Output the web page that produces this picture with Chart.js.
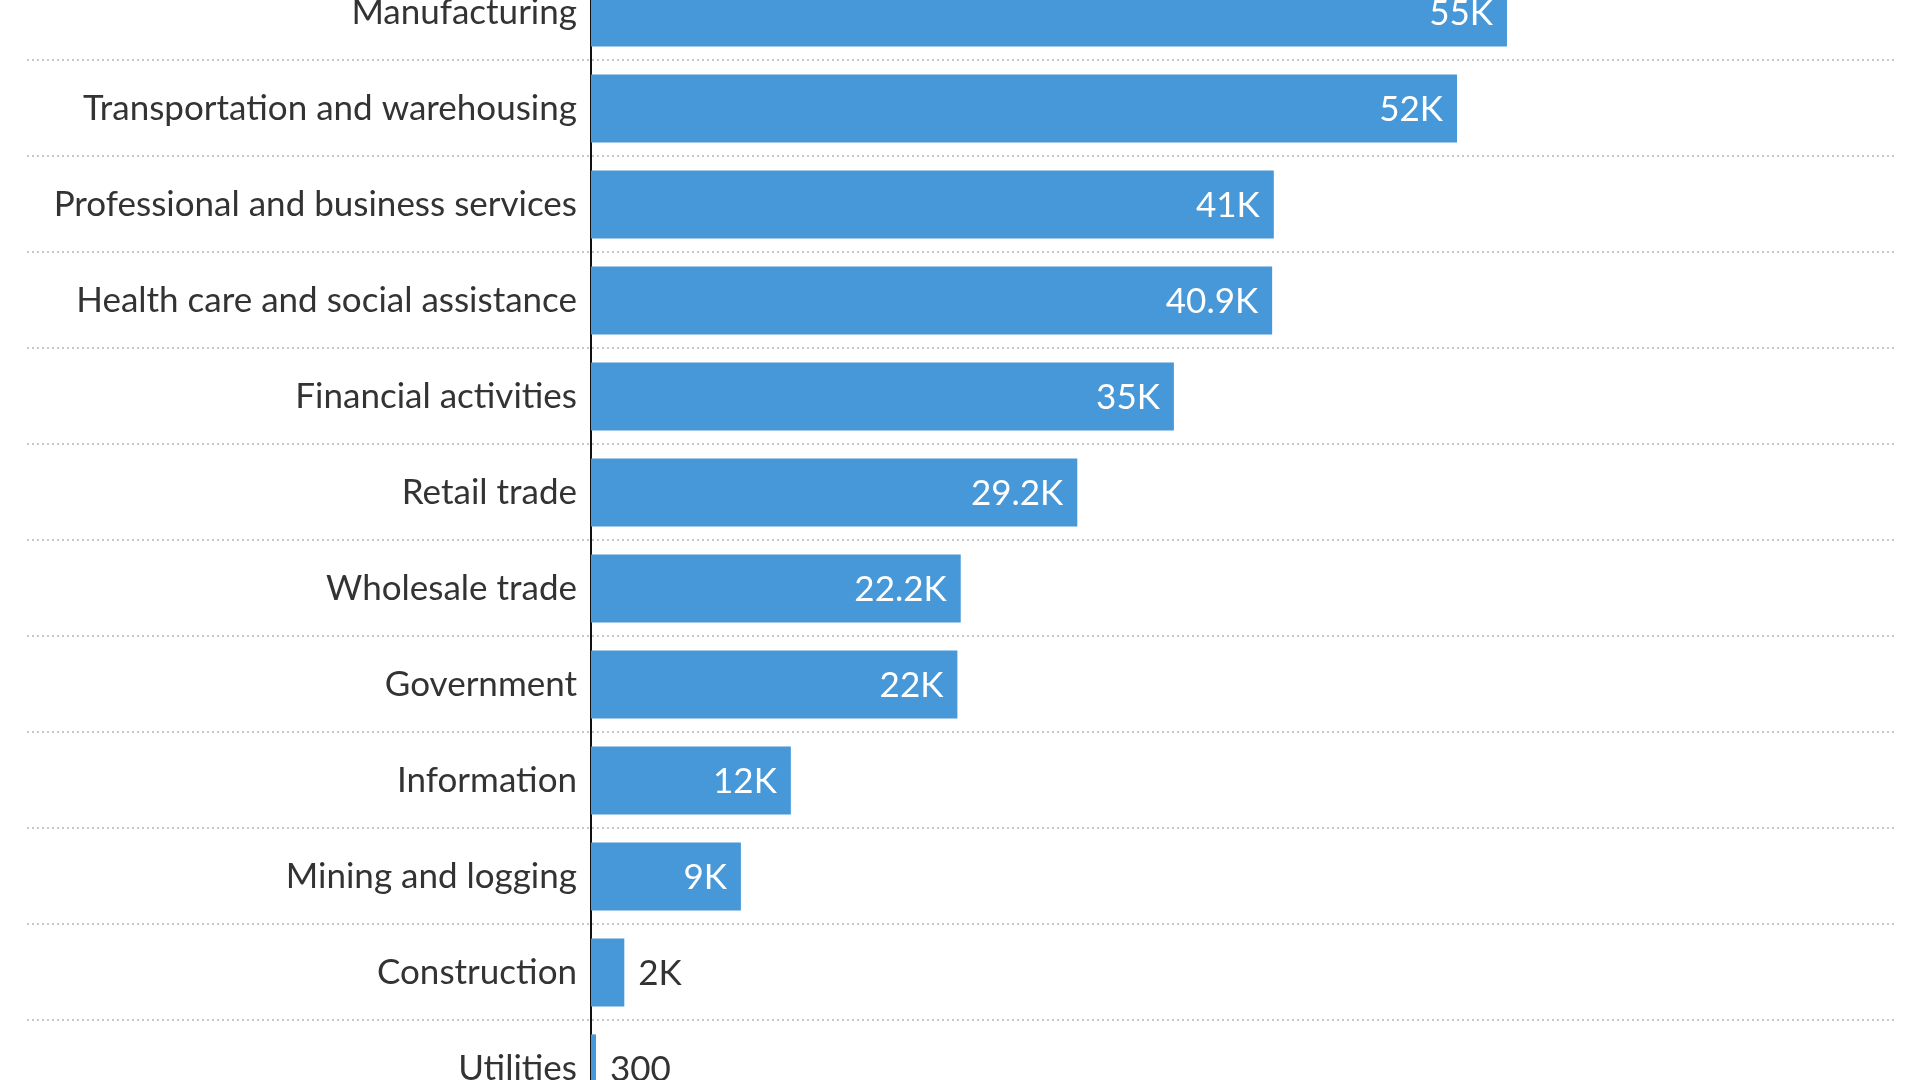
<!DOCTYPE html>
<html>
<head>
<meta charset="utf-8">
<script src="https://cdn.jsdelivr.net/npm/chart.js@4"></script>
<style>
    html, body { margin: 0; padding: 0; background: #fff; overflow: hidden; }
    #chart-bars { display: block; width: 1920px; height: 1080px; }
</style>
</head>
<body>
<canvas id="chart-bars" width="1920" height="1080"></canvas>
<script>
var sectors = [
    "Manufacturing",
    "Transportation and warehousing",
    "Professional and business services",
    "Health care and social assistance",
    "Financial activities",
    "Retail trade",
    "Wholesale trade",
    "Government",
    "Information",
    "Mining and logging",
    "Construction",
    "Utilities"
];
var jobs = [55000, 52000, 41000, 40900, 35000, 29200, 22200, 22000, 12000, 9000, 2000, 300];
var jobLabels = ["55K", "52K", "41K", "40.9K", "35K", "29.2K", "22.2K", "22K", "12K", "9K", "2K", "300"];

var fontFamily = 'Lato, "Open Sans", sans-serif';
var textColor = '#333333';

// dotted separators between rows, running under the labels too
var rowLines = {
    id: 'rowLines',
    beforeDatasetsDraw(chart) {
        let ctx = chart.ctx;
        let y = chart.scales.y;
        ctx.save();
        ctx.strokeStyle = '#c8c8c8';
        ctx.lineWidth = 2;
        ctx.setLineDash([2, 3]);
        for (let i = 0; i < sectors.length - 1; i++) {
            let py = Math.round(y.getPixelForValue(i + 0.5));
            ctx.beginPath();
            ctx.moveTo(27, py);
            ctx.lineTo(chart.chartArea.right + 4, py);
            ctx.stroke();
        }
        ctx.restore();
    }
};

// value labels at the bar end, inside when they fit
var valueLabels = {
    id: 'valueLabels',
    afterDatasetsDraw(chart) {
        let ctx = chart.ctx;
        let meta = chart.getDatasetMeta(0);
        ctx.save();
        ctx.font = '35px ' + fontFamily;
        ctx.textBaseline = 'middle';
        meta.data.forEach((bar, i) => {
            let txt = jobLabels[i];
            let w = ctx.measureText(txt).width;
            let barLen = bar.x - bar.base;
            if (barLen > w + 28) {
                ctx.fillStyle = '#ffffff';
                ctx.textAlign = 'right';
                ctx.fillText(txt, bar.x - 14, bar.y + 1);
            } else {
                ctx.fillStyle = textColor;
                ctx.textAlign = 'left';
                ctx.fillText(txt, bar.x + 14, bar.y + 1);
            }
        });
        ctx.restore();
    }
};

drawChart();

function drawChart() {
    let ctx = document.getElementById('chart-bars').getContext('2d');
    new Chart(ctx, {
        type: 'bar',
        data: {
            datasets: [{
                label: 'Jobs',
                data: jobs.map((v, i) => ({ x: v, y: i })),
                backgroundColor: '#4798d8',
                borderWidth: 0,
                barPercentage: 0.71,
                categoryPercentage: 1.0
            }]
        },
        options: {
            indexAxis: 'y',
            responsive: false,
            devicePixelRatio: 1,
            animation: false,
            layout: { padding: { left: 0, right: 30, top: 0, bottom: 0 } },
            plugins: {
                legend: { display: false },
                tooltip: { enabled: false }
            },
            scales: {
                x: {
                    display: false,
                    min: 0,
                    max: 78000
                },
                // row index axis; the picture is a crop, so the first and
                // last rows run past the top and bottom edges
                y: {
                    type: 'linear',
                    reverse: true,
                    offset: false,
                    min: -0.13,
                    max: 11.12,
                    grid: { display: false, drawTicks: false },
                    border: { display: true, color: '#111111', width: 2 },
                    afterFit(scale) {
                        scale.width = 591;
                        scale.paddingTop = 0;
                        scale.paddingBottom = 0;
                    },
                    afterBuildTicks(scale) {
                        scale.ticks = sectors.map((_, i) => ({ value: i }));
                    },
                    ticks: {
                        autoSkip: false,
                        color: textColor,
                        padding: 14,
                        callback: (v) => sectors[v],
                        font: {
                            size: 35,
                            family: fontFamily,
                            weight: 400
                        }
                    }
                }
            }
        },
        plugins: [rowLines, valueLabels]
    });
}
</script>
</body>
</html>
